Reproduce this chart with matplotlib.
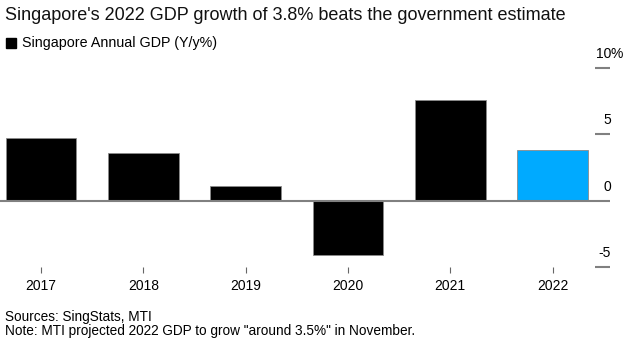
import matplotlib.pyplot as plt
from matplotlib.patches import Rectangle

plt.rcParams['font.family'] = ['Liberation Sans', 'DejaVu Sans']

years = ['2017', '2018', '2019', '2020', '2021', '2022']
gdp = [4.7, 3.6, 1.1, -4.1, 7.6, 3.8]
bar_colors = ['black', 'black', 'black', 'black', 'black', '#00aaff']
y_ticks = [-5, 0, 5, 10]
y_labels = ['-5', '0', '5', '10']

fig = plt.figure(figsize=(6.35, 3.44), dpi=100)
ax = fig.add_axes([0.0, 77 / 344, 595 / 635, 199 / 344])

x = list(range(len(years)))
ax.bar(x, gdp, width=0.69, color=bar_colors, edgecolor='#8a8a8a', linewidth=0.6, zorder=2)
ax.axhline(0, color='#808080', linewidth=1.5, zorder=3)

ax.set_xlim(-0.40, 5.415)
ax.set_ylim(-5, 10)

for s in ax.spines.values():
    s.set_visible(False)

ax.set_xticks(x)
ax.set_xticklabels(years, fontsize=10)
ax.tick_params(axis='x', length=4, width=0.8, color='#666666', pad=5)

# right-side tick dashes with labels sitting above them
ax.yaxis.tick_right()
ax.set_yticks(y_ticks)
ax.set_yticklabels([])
ax.tick_params(axis='y', length=11, width=1.5, color='#808080')
for v, lab in zip(y_ticks, y_labels):
    ax.annotate(lab, xy=(1.0, v), xycoords=('axes fraction', 'data'),
                xytext=(11.5, 10), textcoords='offset points',
                ha='right', va='center', fontsize=10)
# percent sign hangs past the numbers on the top label
ax.annotate('%', xy=(1.0, y_ticks[-1]), xycoords=('axes fraction', 'data'),
            xytext=(11.5, 10), textcoords='offset points',
            ha='left', va='center', fontsize=10)

fig.text(0.008, 0.955, "Singapore's 2022 GDP growth of 3.8% beats the government estimate",
         fontsize=13, va='center', ha='left', color='#111111')
fig.patches.append(Rectangle((6 / 635, 1 - 48 / 344), 10 / 635, 10 / 344,
                             transform=fig.transFigure, color='black'))
fig.text(22 / 635, 1 - 43 / 344, 'Singapore Annual GDP (Y/y%)', fontsize=10.3,
         va='center', ha='left')
fig.text(0.008, 1 - 317 / 344, 'Sources: SingStats, MTI', fontsize=9.8, va='center', ha='left')
fig.text(0.008, 1 - 331 / 344, 'Note: MTI projected 2022 GDP to grow "around 3.5%" in November.',
         fontsize=9.8, va='center', ha='left')

fig.savefig('out.png', dpi=100)
